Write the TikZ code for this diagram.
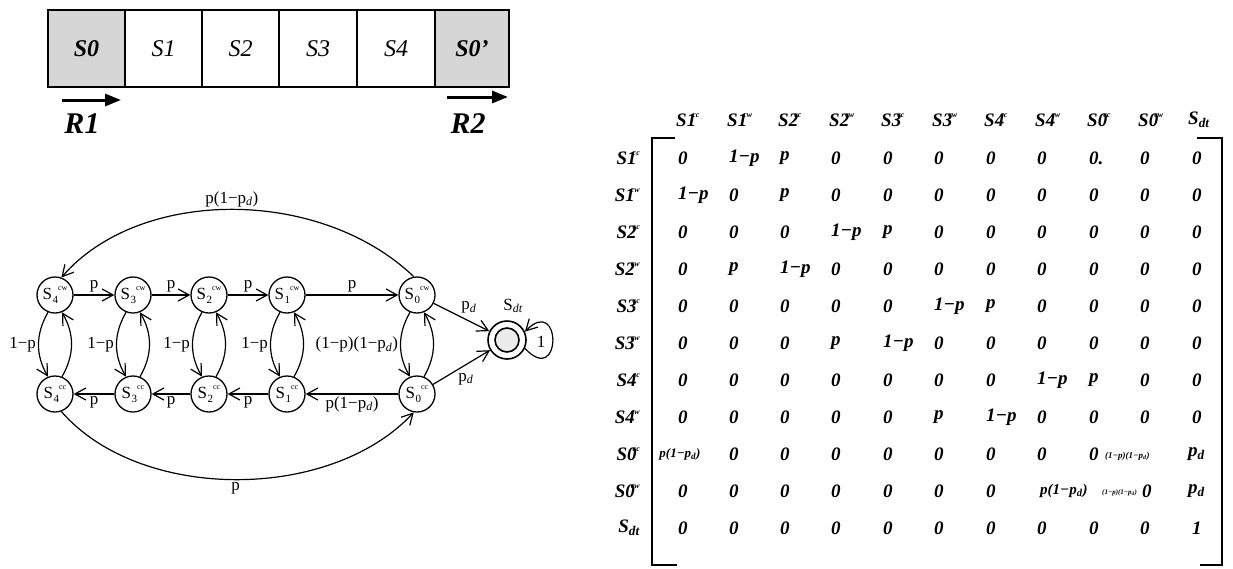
\documentclass[tikz,border=0pt]{standalone}
\usepackage{fontspec}
\setmainfont{Liberation Serif}
\usetikzlibrary{arrows.meta}
\newcommand\fs[1]{\fontsize{#1}{#1}\selectfont}
\newcommand\mS[2]{S#1\kern-4pt\raisebox{1.05ex}{\fs{8}#2}}
\newcommand\pd{p\textsubscript{\itshape d}}
\newcommand\nS[2]{S\kern0.5pt\raisebox{-0.45ex}{\fs{11}#1}\raisebox{1.15ex}{\fs{8}#2}}
\begin{document}
\begin{tikzpicture}[x=1pt,y=-1pt,
 cell/.style={draw, line width=1.6pt, minimum height=77pt, inner sep=0pt, font=\fs{24}\itshape},
 shade/.style={fill=black!16, font=\fs{24}\bfseries\itshape},
 st/.style={circle, draw, line width=1.3pt, minimum size=36pt, inner sep=0pt, font=\fs{17}},
 arr/.style={line width=1.2pt, -{Straight Barb[length=11pt,width=12pt]}},
 lab/.style={font=\fs{17}, inner sep=2pt},
 ent/.style={font=\fs{19}\bfseries\itshape, inner sep=0pt},
 fat/.style={-{Triangle[length=16pt,width=12pt]}, line width=3pt},
 big/.style={font=\fs{30}\bfseries\itshape, inner sep=0pt},
 brk/.style={line width=2.6pt},
]
\useasboundingbox (0,0) rectangle (1233,568);

% ---------- strip ----------
\node[cell, shade, minimum width=77pt] (c0) at (86.5,48.5) {S0};
\node[cell, minimum width=77pt] (c1) at (163.5,48.5) {S1};
\node[cell, minimum width=77pt] (c2) at (240.5,48.5) {S2};
\node[cell, minimum width=78pt] (c3) at (318,48.5) {S3};
\node[cell, minimum width=78pt] (c4) at (396,48.5) {S4};
\node[cell, shade, minimum width=74pt] (c5) at (472,48.5) {S0'};

\coordinate (r1s) at (62,100); \coordinate (r1e) at (121,100);
\draw[fat] (r1s) -- (r1e);
\node[big] (r1) at (82,124) {R1};
\coordinate (r2s) at (447,97); \coordinate (r2e) at (508,97);
\draw[fat] (r2s) -- (r2e);
\node[big] (r2) at (468,124) {R2};

% ---------- graph ----------
\foreach \n/\x in {4/55,3/133,2/209,1/287,0/417} {
  \node[st] (a\n) at (\x,295) {\nS{\n}{cw}};
  \node[st] (b\n) at (\x,394) {\nS{\n}{cc}};
}
\node[circle, draw, line width=1.6pt, minimum size=38pt, inner sep=0pt] (sdt) at (507,340) {};
\node[circle, draw, line width=1.6pt, minimum size=24pt, inner sep=0pt, fill=black!8] (sdtin) at (507,340) {};
\node[lab] (sdtl) at (513,306) {S\textsubscript{\itshape dt}};

\draw[arr] (a4) -- node[lab,above] {p} (a3);
\draw[arr] (a3) -- node[lab,above] {p} (a2);
\draw[arr] (a2) -- node[lab,above] {p} (a1);
\draw[arr] (a1) -- node[lab,above] {p} (a0);
\draw[arr] (b0) -- node[lab,below] {p(1−\pd)} (b1);
\draw[arr] (b1) -- node[lab,below] {p} (b2);
\draw[arr] (b2) -- node[lab,below] {p} (b3);
\draw[arr] (b3) -- node[lab,below] {p} (b4);
\draw[arr] (a0) -- node[lab,above right, pos=0.45] {\pd} (sdt);
\draw[arr] (b0) -- node[lab,below right, pos=0.4] {\pd} (sdt);

\draw[arr] (a0.100) .. controls (320,187) and (140,187) .. node[lab,above] {p(1−\pd)} (a4.70);
\draw[arr] (b4.-70) .. controls (140,502) and (330,502) .. node[lab,below] {p} (b0.-100);

\foreach \n in {4,3,2,1} {
  \draw[arr] (a\n.-112) to[bend right=30] node[lab,left] {1−p} (b\n.112);
  \draw[arr] (b\n.68) to[bend right=30] (a\n.-68);
}
\draw[arr] (a0.-112) to[bend right=30] node[lab,left] {(1−p)(1−\pd)} (b0.112);
\draw[arr] (b0.68) to[bend right=30] (a0.-68);

\draw[arr] (sdt.-25) .. controls (562,388) and (562,294) .. (sdt.25);
\node[lab] (one) at (541,342) {1};

% ---------- matrix ----------
\draw[brk] (675,138) -- (652,138) -- (652,565) -- (677,565);
\draw[brk] (1197,138) -- (1222,138) -- (1222,565) -- (1200,565);

\foreach \x [count=\i] in {684,735,786,837,889,940,992,1043,1095,1146,1198}
  \coordinate (col\i) at (\x,0);
\foreach \y [count=\r] in {158,195,232,269,306,343,380,417,454,491,528}
  \coordinate (row\r) at (0,\y);
\coordinate (hdr) at (0,120);

\foreach \d/\s [count=\i] in {1/cc,1/cw,2/cc,2/cw,3/cc,3/cw,4/cc,4/cw,0/cc,0/cw}
  \node[ent, anchor=west, xshift=-8pt] (h\i) at (col\i |- hdr) {\mS{\d}{\s}};
\node[ent, anchor=west, xshift=-10pt] (h11) at (col11 |- hdr) {S\textsubscript{dt}};

\foreach \d/\s [count=\r] in {1/cc,1/cw,2/cc,2/cw,3/cc,3/cw,4/cc,4/cw,0/cc,0/cw}
  \node[ent, anchor=east, xshift=640pt] (rl\r) at (row\r) {\mS{\d}{\s}};
\node[ent, anchor=east, xshift=640pt] (rl11) at (row11) {S\textsubscript{dt}};

\newcommand\mrow[2]{%
  \foreach \e [count=\i] in {#2}
    \node[ent, anchor=west, xshift=-6pt] (m#1-\i) at (col\i |- row#1) {\e};}
\mrow{1}{0,1−p,p,0,0,0,0,0,0.,0,0}
\mrow{2}{1−p,0,p,0,0,0,0,0,0,0,0}
\mrow{3}{0,0,0,1−p,p,0,0,0,0,0,0}
\mrow{4}{0,p,1−p,0,0,0,0,0,0,0,0}
\mrow{5}{0,0,0,0,0,1−p,p,0,0,0,0}
\mrow{6}{0,0,0,p,1−p,0,0,0,0,0,0}
\mrow{7}{0,0,0,0,0,0,0,1−p,p,0,0}
\mrow{8}{0,0,0,0,0,p,1−p,0,0,0,0}
\mrow{11}{0,0,0,0,0,0,0,0,0,0,1}

% row S0cc
\node[ent, font=\fs{13}\bfseries\itshape, xshift=-4pt] (m9-1) at (col1 |- row9) {p(1−p\textsubscript{d})};
\foreach \i in {2,...,9}
  \node[ent, anchor=west, xshift=-6pt] (m9-\i) at (col\i |- row9) {0};
\node[ent, font=\fs{9}\bfseries\itshape, anchor=west] (m9-10) at (1105,456) {(1−p)(1−p\textsubscript{d})};
\node[ent, anchor=west, xshift=-10pt] (m9-11) at (col11 |- row9) {p\textsubscript{d}};
% row S0cw
\foreach \i in {1,...,7}
  \node[ent, anchor=west, xshift=-6pt] (m10-\i) at (col\i |- row10) {0};
\node[ent, font=\fs{15}\bfseries\itshape, anchor=west] (m10-8) at (1040,491) {p(1−p\textsubscript{d})};
\node[ent, font=\fs{7}\bfseries\itshape, anchor=west] (m10-9) at (1102,493) {(1−p)(1−p\textsubscript{d})};
\node[ent, anchor=west] (m10-10) at (1142,491) {0};
\node[ent, anchor=west, xshift=-10pt] (m10-11) at (col11 |- row10) {p\textsubscript{d}};
\end{tikzpicture}
\end{document}
